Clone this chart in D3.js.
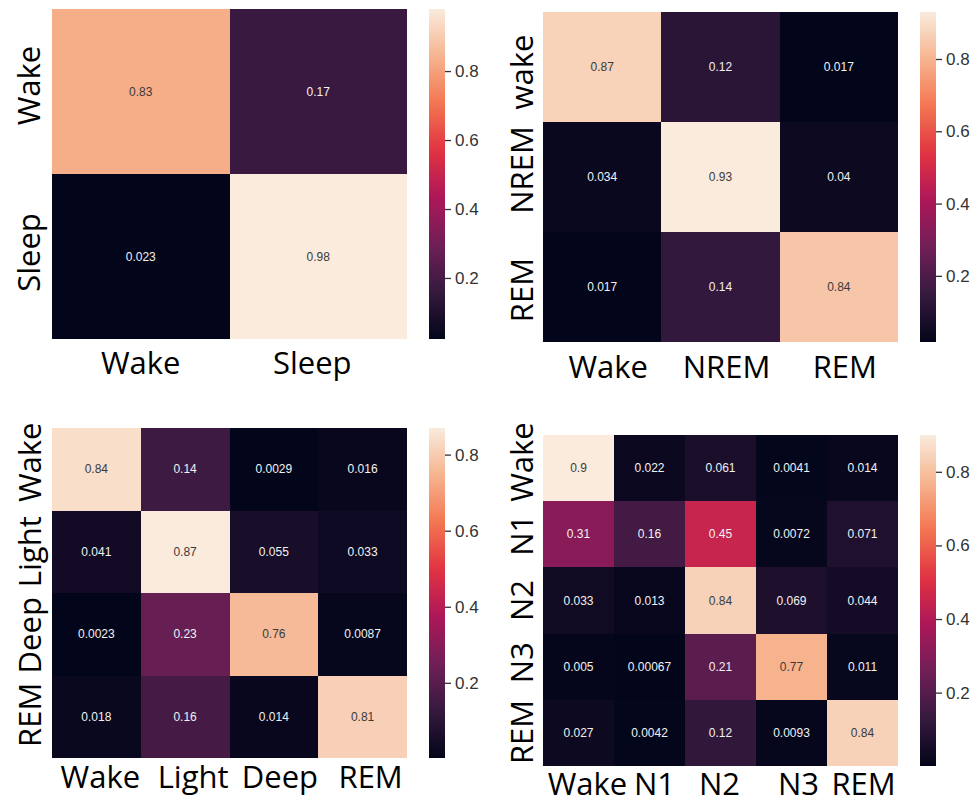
<!DOCTYPE html>
<html>
<head>
<meta charset="utf-8">
<script src="https://cdn.jsdelivr.net/npm/d3@7"></script>
<style>
  html, body { margin: 0; padding: 0; background: #ffffff; }
  svg { display: block; }
</style>
</head>
<body>
<svg id="chart" width="977" height="804"></svg>
<script>
// ---- Confusion matrices (rows = true stage, columns = predicted stage) ----
const stages2Rows = ["Wake", "Sleep"];
const stages2Cols = ["Wake", "Sleep"];
const stages2Values = [
  [0.83, 0.17],
  [0.023, 0.98]
];

const stages3Rows = ["wake", "NREM", "REM"];
const stages3Cols = ["Wake", "NREM", "REM"];
const stages3Values = [
  [0.87, 0.12, 0.017],
  [0.034, 0.93, 0.04],
  [0.017, 0.14, 0.84]
];

const stages4Rows = ["Wake", "Light", "Deep", "REM"];
const stages4Cols = ["Wake", "Light", "Deep", "REM"];
const stages4Values = [
  [0.84, 0.14, 0.0029, 0.016],
  [0.041, 0.87, 0.055, 0.033],
  [0.0023, 0.23, 0.76, 0.0087],
  [0.018, 0.16, 0.014, 0.81]
];

const stages5Rows = ["Wake", "N1", "N2", "N3", "REM"];
const stages5Cols = ["Wake", "N1", "N2", "N3", "REM"];
const stages5Values = [
  [0.9, 0.022, 0.061, 0.0041, 0.014],
  [0.31, 0.16, 0.45, 0.0072, 0.071],
  [0.033, 0.013, 0.84, 0.069, 0.044],
  [0.005, 0.00067, 0.21, 0.77, 0.011],
  [0.027, 0.0042, 0.12, 0.0093, 0.84]
];

const colorbarTicks = [0.2, 0.4, 0.6, 0.8];

// ---- "rocket" colour map (seaborn), sampled stops ----
const rocketStops = ["#03051a", "#35193e", "#701f57", "#ad1759", "#e13342", "#f37651", "#f6b48f", "#faebdd"];
const rocket = d3.scaleLinear()
  .domain(rocketStops.map((_, i) => i / (rocketStops.length - 1)))
  .range(rocketStops)
  .interpolate(d3.interpolateRgb)
  .clamp(true);

// ---- Panel layout (label nudges are small hand offsets of the tick labels) ----
const panels = [
  { rows: stages2Rows, cols: stages2Cols, values: stages2Values,
    box: { x0: 52, x1: 407, y0: 9, y1: 339 }, cbX: 429,
    xLabelY: 374, yLabelX: 40, xNudge: [0, -6], yNudge: [-6, -4] },
  { rows: stages3Rows, cols: stages3Cols, values: stages3Values,
    box: { x0: 543, x1: 898, y0: 12, y1: 342 }, cbX: 920,
    xLabelY: 378, yLabelX: 533, xNudge: [6, 6, 6], yNudge: [5, -7, 3] },
  { rows: stages4Rows, cols: stages4Cols, values: stages4Values,
    box: { x0: 52, x1: 407, y0: 428, y1: 758 }, cbX: 429,
    xLabelY: 788, yLabelX: 41, xNudge: [4, 8, 6, 8], yNudge: [-7, 0, 1, -2] },
  { rows: stages5Rows, cols: stages5Cols, values: stages5Values,
    box: { x0: 543, x1: 898, y0: 435, y1: 766 }, cbX: 920,
    xLabelY: 795, yLabelX: 533, xNudge: [9, 5, -1, 7, 1], yNudge: [-6, 1, 0, -4, -1] }
];

const svg = d3.select("#chart");
const defs = svg.append("defs");
const cbWidth = 16;
const labelFont = "'Open Sans', 'Noto Sans', sans-serif";
const labelSize = 31;

function luminance(c) {
  const rgb = d3.rgb(c);
  const f = v => { v /= 255; return v <= 0.03928 ? v / 12.92 : Math.pow((v + 0.055) / 1.055, 2.4); };
  return 0.2126 * f(rgb.r) + 0.7152 * f(rgb.g) + 0.0722 * f(rgb.b);
}

panels.forEach((p, pi) => {
  const { x0, x1, y0, y1 } = p.box;
  const flat = p.values.flat();
  const vmin = d3.min(flat), vmax = d3.max(flat);
  const norm = d3.scaleLinear().domain([vmin, vmax]).range([0, 1]);
  const colorOf = v => rocket(norm(v));

  const x = d3.scaleBand().domain(p.cols).range([x0, x1]);
  const y = d3.scaleBand().domain(p.rows.map((r, i) => i)).range([y0, y1]);

  const g = svg.append("g");

  const cells = [];
  p.values.forEach((row, ri) => row.forEach((v, ci) => cells.push({ ri, ci, v })));

  // heatmap cells
  g.selectAll("rect.cell").data(cells).join("rect")
    .attr("class", "cell")
    .attr("x", d => x(p.cols[d.ci]))
    .attr("y", d => y(d.ri))
    .attr("width", x.bandwidth())
    .attr("height", y.bandwidth())
    .attr("fill", d => colorOf(d.v))
    .attr("shape-rendering", "crispEdges");

  // cell annotations
  g.selectAll("text.annot").data(cells).join("text")
    .attr("class", "annot")
    .attr("x", d => x(p.cols[d.ci]) + x.bandwidth() / 2)
    .attr("y", d => y(d.ri) + y.bandwidth() / 2)
    .attr("text-anchor", "middle")
    .attr("dominant-baseline", "central")
    .attr("font-family", "'Liberation Sans', Arial, sans-serif")
    .attr("font-size", 12)
    .attr("fill", d => luminance(colorOf(d.v)) > 0.408 ? "#3a3a3a" : "#f2f2f2")
    .text(d => String(d.v));

  // x tick labels
  g.selectAll("text.xlab").data(p.cols).join("text")
    .attr("class", "xlab")
    .attr("x", (d, i) => x(d) + x.bandwidth() / 2 + p.xNudge[i])
    .attr("y", p.xLabelY)
    .attr("text-anchor", "middle")
    .attr("font-family", labelFont)
    .attr("font-size", labelSize)
    .attr("fill", "#000")
    .text(d => d);

  // y tick labels (rotated)
  g.selectAll("text.ylab").data(p.rows).join("text")
    .attr("class", "ylab")
    .attr("transform", (d, i) => `translate(${p.yLabelX},${y(i) + y.bandwidth() / 2 + p.yNudge[i]}) rotate(-90)`)
    .attr("text-anchor", "middle")
    .attr("font-family", labelFont)
    .attr("font-size", labelSize)
    .attr("fill", "#000")
    .text(d => d);

  // colour bar
  const gradId = "cbgrad" + pi;
  const grad = defs.append("linearGradient")
    .attr("id", gradId)
    .attr("x1", 0).attr("y1", 1).attr("x2", 0).attr("y2", 0);
  d3.range(0, 1.0001, 0.02).forEach(t => {
    grad.append("stop").attr("offset", t).attr("stop-color", rocket(t));
  });
  g.append("rect")
    .attr("x", p.cbX).attr("y", y0)
    .attr("width", cbWidth).attr("height", y1 - y0)
    .attr("fill", `url(#${gradId})`);

  const cbScale = d3.scaleLinear().domain([vmin, vmax]).range([y1, y0]);
  const axis = d3.axisRight(cbScale)
    .tickValues(colorbarTicks)
    .tickSize(6)
    .tickPadding(4)
    .tickFormat(d3.format(".1f"));
  const ag = g.append("g")
    .attr("transform", `translate(${p.cbX + cbWidth},0)`)
    .call(axis);
  ag.select(".domain").remove();
  ag.selectAll(".tick line").attr("stroke", "#333").attr("stroke-width", 1.3);
  ag.selectAll(".tick text")
    .attr("font-family", "'Liberation Sans', Arial, sans-serif")
    .attr("font-size", 17)
    .attr("fill", "#333");
});
</script>
</body>
</html>
